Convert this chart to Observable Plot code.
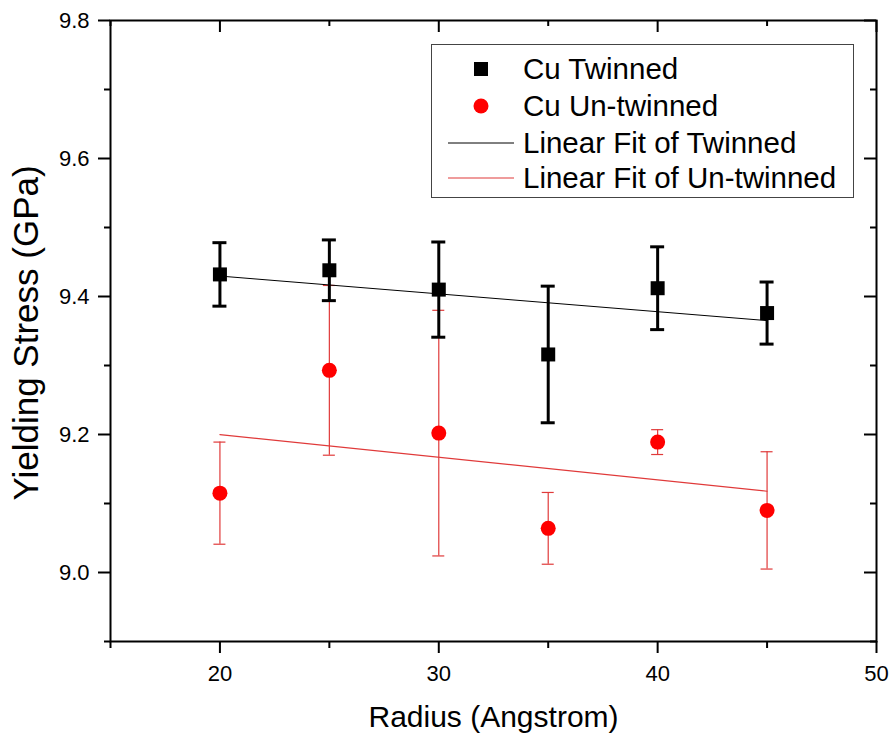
<!DOCTYPE html>
<html>
<head>
<meta charset="utf-8">
<script src="https://cdn.jsdelivr.net/npm/d3@7"></script>
<script src="https://cdn.jsdelivr.net/npm/@observablehq/plot@0.6"></script>
<style>
  body { margin: 0; background: #fff; }
  #wrap { position: relative; width: 892px; height: 738px; font-family: "Liberation Sans", Arial, sans-serif; }
  #legend { position: absolute; left: 431px; top: 44px; width: 423px; height: 154px; border: 1px solid #444; background: #fff; box-sizing: border-box; }
  .row { position: absolute; left: 0; height: 36px; width: 100%; }
  .row svg { position: absolute; left: 16px; top: 0; }
  .row span { position: absolute; left: 91px; top: 50%; transform: translateY(-52%); font-size: 29.5px; color: #000; white-space: nowrap; line-height: 1; }
</style>
</head>
<body>
<div id="wrap"></div>
<script>
// ---- data ----
const radius = [20, 25, 30, 35, 40, 45];
const twinned = [9.432, 9.438, 9.410, 9.316, 9.412, 9.376];
const twinnedErr = [0.046, 0.044, 0.069, 0.099, 0.060, 0.045];
const untwinned = [9.115, 9.293, 9.202, 9.064, 9.189, 9.090];
const untwinnedErr = [0.074, 0.123, 0.178, 0.052, 0.018, 0.085];
const xMajorTicks = [20, 30, 40, 50];
const xMinorTicks = [15, 25, 35, 45];
const yMajorTicks = [9.0, 9.2, 9.4, 9.6, 9.8];
const yMinorTicks = [8.9, 9.1, 9.3, 9.5, 9.7];
const seriesNames = ["Cu Twinned", "Cu Un-twinned", "Linear Fit of Twinned", "Linear Fit of Un-twinned"];
const xLabel = "Radius (Angstrom)";
const yLabel = "Yielding Stress (GPa)";

const tw = radius.map((r, i) => ({r, y: twinned[i], e: twinnedErr[i]}));
const un = radius.map((r, i) => ({r, y: untwinned[i], e: untwinnedErr[i]}));

const W = 892, H = 738, mL = 110, mR = 16, mT = 20, mB = 97;
const innerW = W - mL - mR, innerH = H - mT - mB;
const RED = "#ff0000", RED_LINE = "#e03a3a";

const chart = Plot.plot({
  width: W, height: H,
  marginLeft: mL, marginRight: mR, marginTop: mT, marginBottom: mB,
  style: {fontFamily: "'Liberation Sans', Arial, sans-serif", fontSize: "22px", color: "#000", background: "#fff"},
  x: {domain: [15, 50]},
  y: {domain: [8.9, 9.8]},
  marks: [
    // axes
    Plot.axisX(xMajorTicks, {anchor: "bottom", tickSize: 12, tickPadding: 12, strokeWidth: 2, fontSize: 22, label: null}),
    Plot.axisX(xMinorTicks, {anchor: "bottom", tickSize: 7, strokeWidth: 2, tickFormat: () => "", label: null}),
    Plot.axisY(yMajorTicks, {anchor: "left", tickSize: 12, tickPadding: 9, strokeWidth: 2, fontSize: 22, tickFormat: d3.format(".1f"), label: null}),
    Plot.axisY(yMinorTicks, {anchor: "left", tickSize: 6, strokeWidth: 2, tickFormat: () => "", label: null}),
    Plot.tickX(xMajorTicks, {x: d => d, insetBottom: innerH - 12, strokeWidth: 2}),
    Plot.tickX(xMinorTicks, {x: d => d, insetBottom: innerH - 6, strokeWidth: 2}),
    Plot.tickY(yMajorTicks, {y: d => d, insetLeft: innerW - 12, strokeWidth: 2}),
    Plot.tickY(yMinorTicks, {y: d => d, insetLeft: innerW - 6, strokeWidth: 2}),
    Plot.frame({stroke: "#000", strokeWidth: 2}),
    // axis titles
    Plot.text([xLabel], {frameAnchor: "bottom", dy: 76, fontSize: 30, lineAnchor: "middle", textAnchor: "middle"}),
    Plot.text([yLabel], {frameAnchor: "left", dx: -84, dy: 2, rotate: -90, fontSize: 35, lineAnchor: "middle", textAnchor: "middle"}),
    // un-twinned
    Plot.ruleX(un, {x: "r", y1: d => d.y - d.e, y2: d => d.y + d.e, stroke: RED_LINE, strokeWidth: 1.2}),
    Plot.ruleY(un, {y: d => d.y - d.e, x1: "r", x2: "r", insetLeft: -6, insetRight: -6, stroke: RED_LINE, strokeWidth: 1.2}),
    Plot.ruleY(un, {y: d => d.y + d.e, x1: "r", x2: "r", insetLeft: -6, insetRight: -6, stroke: RED_LINE, strokeWidth: 1.2}),
    Plot.linearRegressionY(un, {x: "r", y: "y", ci: 0, stroke: RED_LINE, strokeWidth: 1.2}),
    Plot.dot(un, {x: "r", y: "y", r: 7.5, fill: RED, symbol: "circle"}),
    // twinned
    Plot.ruleX(tw, {x: "r", y1: d => d.y - d.e, y2: d => d.y + d.e, stroke: "#000", strokeWidth: 3}),
    Plot.ruleY(tw, {y: d => d.y - d.e, x1: "r", x2: "r", insetLeft: -7, insetRight: -7, stroke: "#000", strokeWidth: 3}),
    Plot.ruleY(tw, {y: d => d.y + d.e, x1: "r", x2: "r", insetLeft: -7, insetRight: -7, stroke: "#000", strokeWidth: 3}),
    Plot.linearRegressionY(tw, {x: "r", y: "y", ci: 0, stroke: "#000", strokeWidth: 1}),
    Plot.dot(tw, {x: "r", y: "y", r: 7.9, fill: "#000", symbol: "square"})
  ]
});

const wrap = document.getElementById("wrap");
wrap.appendChild(chart);

// legend
const legend = document.createElement("div");
legend.id = "legend";
const rowTops = [6, 43, 80, 115];
const symbols = [
  `<svg width="66" height="36"><rect x="26" y="11" width="14" height="14" fill="#000"/></svg>`,
  `<svg width="66" height="36"><circle cx="33" cy="18" r="7.5" fill="${RED}"/></svg>`,
  `<svg width="66" height="36"><line x1="0" x2="66" y1="18" y2="18" stroke="#000" stroke-width="1"/></svg>`,
  `<svg width="66" height="36"><line x1="0" x2="66" y1="18" y2="18" stroke="${RED_LINE}" stroke-width="1.2"/></svg>`
];
seriesNames.forEach((name, i) => {
  const row = document.createElement("div");
  row.className = "row";
  row.style.top = rowTops[i] + "px";
  row.innerHTML = symbols[i] + `<span>${name}</span>`;
  legend.appendChild(row);
});
wrap.appendChild(legend);
</script>
</body>
</html>
